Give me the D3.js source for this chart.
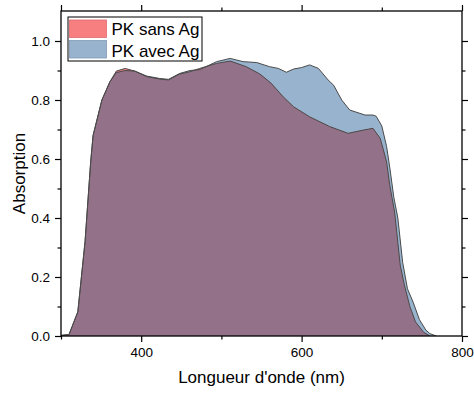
<!DOCTYPE html>
<html>
<head>
<meta charset="utf-8">
<script src="https://cdn.jsdelivr.net/npm/d3@7"></script>
<style>
  html, body { margin: 0; padding: 0; background: #fff; }
  svg { display: block; font-family: Arial, "Liberation Sans", sans-serif; }
</style>
</head>
<body>
<svg id="chart" width="474" height="394"></svg>
<script>
// ---- data ----
const seriesNames = ["PK sans Ag", "PK avec Ag"];

const sansAgX = [300, 310, 321, 330, 337, 340, 351, 361, 369, 380, 392, 407, 423, 434, 448, 461, 473, 494, 511, 531, 548, 562, 577, 590, 610, 635, 658, 677, 689, 698, 702, 706, 710, 716, 723, 728, 735, 742, 752, 760];
const sansAgY = [0.002, 0.005, 0.082, 0.32, 0.59, 0.68, 0.80, 0.862, 0.898, 0.907, 0.898, 0.879, 0.871, 0.868, 0.888, 0.896, 0.907, 0.924, 0.932, 0.913, 0.888, 0.857, 0.811, 0.777, 0.743, 0.710, 0.687, 0.698, 0.704, 0.670, 0.631, 0.590, 0.510, 0.420, 0.240, 0.175, 0.100, 0.048, 0.013, 0];

const avecAgX = [300, 310, 321, 330, 337, 340, 351, 361, 369, 380, 392, 407, 423, 434, 448, 461, 473, 494, 511, 527, 544, 560, 571, 581, 590, 600, 610, 621, 633, 640, 650, 660, 679, 689, 693, 700, 706, 710, 715, 720, 726, 732, 739, 747, 755, 760, 768];
const avecAgY = [0.002, 0.005, 0.082, 0.32, 0.59, 0.68, 0.80, 0.862, 0.893, 0.900, 0.898, 0.881, 0.873, 0.870, 0.890, 0.900, 0.903, 0.930, 0.941, 0.930, 0.927, 0.913, 0.907, 0.894, 0.905, 0.910, 0.919, 0.907, 0.868, 0.850, 0.800, 0.766, 0.749, 0.749, 0.745, 0.712, 0.642, 0.570, 0.470, 0.400, 0.250, 0.160, 0.115, 0.055, 0.020, 0.008, 0];

const xTickValues = [400, 600, 800];
const xMinorTicks = [300, 500, 700];
const yTickValues = [0.0, 0.2, 0.4, 0.6, 0.8, 1.0];
const yMinorTicks = [0.1, 0.3, 0.5, 0.7, 0.9];

const xLabel = "Longueur d'onde (nm)";
const yLabel = "Absorption";

// ---- layout ----
const svg = d3.select("#chart");
const L = 61, R = 462, T = 11, B = 336;
const x = d3.scaleLinear().domain([300, 800]).range([L, R]);
const y = d3.scaleLinear().domain([0, 1.1017]).range([B, T]);

const colRed = "#f77f80";
const colBlue = "#98b3cd";
const colOverlap = "#937188";
const colLine = "#4a4a4a";

const sans = sansAgX.map((v, i) => [v, sansAgY[i]]);
const avec = avecAgX.map((v, i) => [v, avecAgY[i]]);

const area = d3.area().x(d => x(d[0])).y0(y(0)).y1(d => y(d[1]));
const line = d3.line().x(d => x(d[0])).y(d => y(d[1]));

const defs = svg.append("defs");
defs.append("clipPath").attr("id", "clipAvec")
  .append("path").attr("d", area(avec));
defs.append("clipPath").attr("id", "clipPlot")
  .append("rect").attr("x", L).attr("y", T).attr("width", R - L).attr("height", B - T);

const g = svg.append("g").attr("clip-path", "url(#clipPlot)");
g.append("path").attr("d", area(avec)).attr("fill", colBlue);
g.append("path").attr("d", area(sans)).attr("fill", colRed);
g.append("path").attr("d", area(sans)).attr("fill", colOverlap).attr("clip-path", "url(#clipAvec)");
g.append("path").attr("d", line(avec)).attr("fill", "none").attr("stroke", colLine).attr("stroke-width", 1);
g.append("path").attr("d", line(sans)).attr("fill", "none").attr("stroke", colLine).attr("stroke-width", 1);

// ---- axes ----
const axisStyle = sel => {
  sel.select(".domain").remove();
  sel.selectAll("line").attr("stroke", "#000").attr("stroke-width", 1.2);
  sel.selectAll("text").attr("font-size", 13.5).attr("fill", "#000")
    .attr("font-family", "Arial, 'Liberation Sans', sans-serif");
};

const gxb = svg.append("g").attr("transform", `translate(0,${B})`)
  .call(d3.axisBottom(x).tickValues(xTickValues).tickFormat(d3.format("d")).tickSize(6).tickPadding(5).tickSizeOuter(0));
axisStyle(gxb);
svg.append("g").attr("transform", `translate(0,${B})`)
  .call(d3.axisBottom(x).tickValues(xMinorTicks).tickFormat("").tickSize(3.5).tickSizeOuter(0)).call(axisStyle);

const gxt = svg.append("g").attr("transform", `translate(0,${T})`)
  .call(d3.axisTop(x).tickValues([300, 400, 600, 800]).tickFormat("").tickSize(6).tickSizeOuter(0));
axisStyle(gxt);
svg.append("g").attr("transform", `translate(0,${T})`)
  .call(d3.axisTop(x).tickValues([500, 700]).tickFormat("").tickSize(3.5).tickSizeOuter(0)).call(axisStyle);

const gyl = svg.append("g").attr("transform", `translate(${L},0)`)
  .call(d3.axisLeft(y).tickValues(yTickValues).tickFormat(d3.format(".1f")).tickSize(6).tickPadding(5).tickSizeOuter(0));
axisStyle(gyl);
svg.append("g").attr("transform", `translate(${L},0)`)
  .call(d3.axisLeft(y).tickValues(yMinorTicks).tickFormat("").tickSize(3.5).tickSizeOuter(0)).call(axisStyle);

svg.append("g").attr("transform", `translate(${R},0)`)
  .call(d3.axisRight(y).tickValues(yTickValues).tickFormat("").tickSize(6).tickSizeOuter(0)).call(axisStyle);
svg.append("g").attr("transform", `translate(${R},0)`)
  .call(d3.axisRight(y).tickValues(yMinorTicks).tickFormat("").tickSize(3.5).tickSizeOuter(0)).call(axisStyle);

// frame
svg.append("rect").attr("x", L).attr("y", T).attr("width", R - L).attr("height", B - T)
  .attr("fill", "none").attr("stroke", "#000").attr("stroke-width", 1.3);

// titles
svg.append("text").attr("x", (L + R) / 2).attr("y", 383).attr("text-anchor", "middle")
  .attr("font-size", 17).attr("fill", "#000").text(xLabel);
svg.append("text").attr("transform", `translate(24.5,${(T + B) / 2}) rotate(-90)`).attr("text-anchor", "middle")
  .attr("font-size", 17).attr("fill", "#000").text(yLabel);

// legend
const lg = svg.append("g");
lg.append("rect").attr("x", 68).attr("y", 17).attr("width", 134).attr("height", 44)
  .attr("fill", "#fff").attr("stroke", "#000").attr("stroke-width", 1);
const legCols = [colRed, colBlue];
const legStroke = ["#e06a6b", "#7f9bb6"];
seriesNames.forEach((name, i) => {
  lg.append("rect").attr("x", 69.5).attr("y", 20 + i * 20.5).attr("width", 37).attr("height", 17.5)
    .attr("fill", legCols[i]).attr("stroke", legStroke[i]).attr("stroke-width", 0.8);
  lg.append("text").attr("x", 111.5).attr("y", 35 + i * 21.5).attr("font-size", 17).attr("fill", "#000").text(name);
});
</script>
</body>
</html>
